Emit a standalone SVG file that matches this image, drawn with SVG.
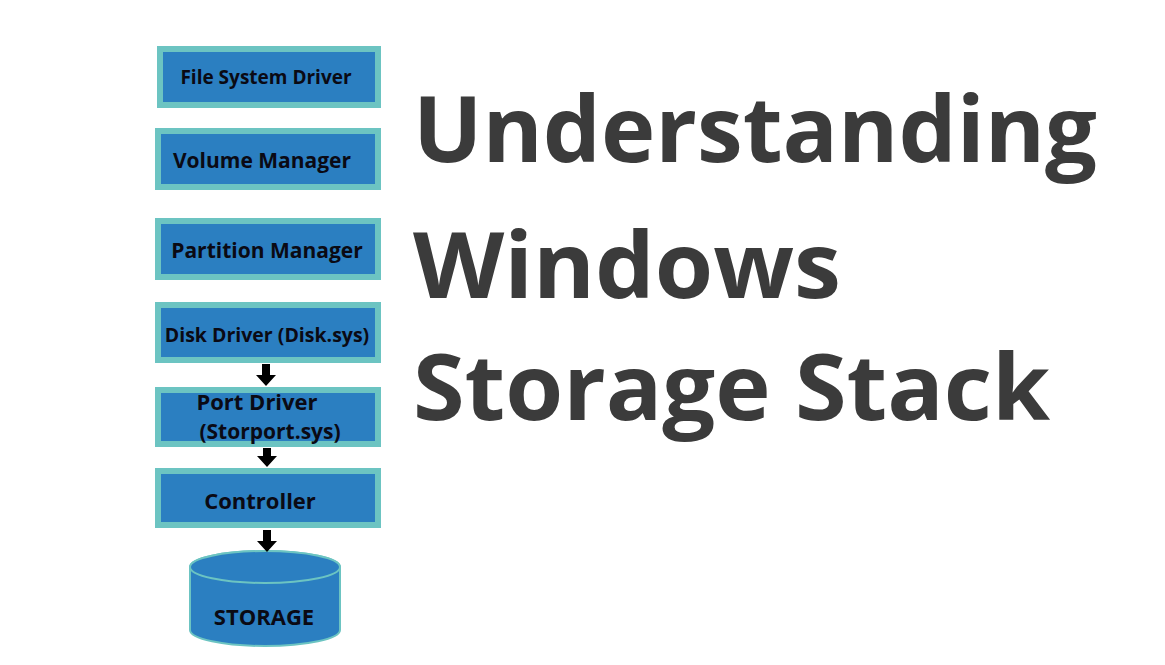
<svg xmlns="http://www.w3.org/2000/svg" width="1165" height="665" viewBox="0 0 1165 665">
<style>
.o{fill:#6cc4c2}
.i{fill:#2b7fc1}
.t{font-family:"Open Sans","Noto Sans",sans-serif;font-weight:700;fill:#0a0a14;font-size:21px;text-anchor:middle}
.h{font-family:"Open Sans","Noto Sans",sans-serif;font-weight:700;fill:#3b3b3b;font-size:92px}
</style>
<rect width="1165" height="665" fill="#fff"/>
<g id="n1"><rect class="o" x="157" y="46" width="224" height="62"/><rect class="i" x="163" y="52" width="212" height="50"/><text class="t" x="266" y="84" style="font-size:19px">File System Driver</text></g>
<g id="n2"><rect class="o" x="155" y="128" width="226" height="62"/><rect class="i" x="161" y="134" width="214" height="50"/><text class="t" x="262" y="168">Volume Manager</text></g>
<g id="n3"><rect class="o" x="155" y="218" width="226" height="62"/><rect class="i" x="161" y="224" width="214" height="50"/><text class="t" x="267" y="258">Partition Manager</text></g>
<g id="n4"><rect class="o" x="155" y="302" width="226" height="61"/><rect class="i" x="161" y="308" width="214" height="49"/><text class="t" x="267" y="342" style="font-size:19.5px">Disk Driver (Disk.sys)</text></g>
<g id="n5"><rect class="o" x="155" y="387" width="226" height="60"/><rect class="i" x="161" y="393" width="214" height="48"/><text class="t" x="257" y="410" style="font-size:22px">Port Driver</text><text class="t" x="270" y="439">(Storport.sys)</text></g>
<g id="n6"><rect class="o" x="155" y="468" width="226" height="60"/><rect class="i" x="161" y="474" width="214" height="48"/><text class="t" x="260" y="509" style="font-size:22px">Controller</text></g>
<g id="n7"><path d="M190,567 L190,630 A75,16 0 0 0 340,630 L340,567 A75,16 0 0 0 190,567z" fill="#2b7fc1" stroke="#6cc4c2" stroke-width="2"/><ellipse cx="265" cy="567" rx="75" ry="16" fill="#2b7fc1" stroke="#6cc4c2" stroke-width="2"/><text class="t" x="264" y="625" style="font-size:22px">STORAGE</text></g>
<g id="connectors" fill="#000">
<path d="M262,364 h8 v11 h6 l-10,11 l-10,-11 h6z"/>
<path d="M263,448 h8 v8 h6 l-10,11 l-10,-11 h6z"/>
<path d="M263,530 h8 v11 h6 l-10,11 l-10,-11 h6z"/>
</g>
<text class="h" x="413" y="162" textLength="684" lengthAdjust="spacingAndGlyphs">Understanding</text>
<text class="h" x="413" y="298" textLength="428" lengthAdjust="spacingAndGlyphs">Windows</text>
<text class="h" x="413" y="420" textLength="637" lengthAdjust="spacingAndGlyphs">Storage Stack</text>
</svg>
